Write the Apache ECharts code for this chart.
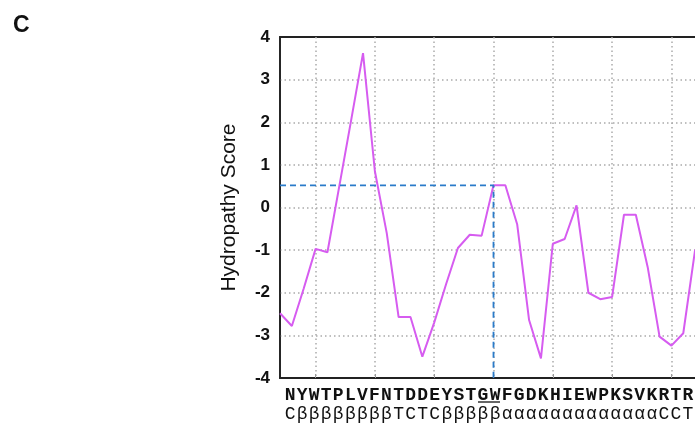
<!DOCTYPE html>
<html>
<head>
<meta charset="utf-8">
<script src="https://cdn.jsdelivr.net/npm/echarts@6/dist/echarts.min.js"></script>
<style>
  html, body { margin: 0; padding: 0; background: #fff; overflow: hidden; }
  #chart { width: 720px; height: 426px; }
</style>
</head>
<body>
<div id="chart"></div>
<script>
// window positions along the sequence (one per point, last one is the plot edge)
const positions = ['0','1','2','3','4','5','6','7','8','9','10','11','12','13','14','15','16','17','18',
  '19','20','21','22','23','24','25','26','27','28','29','30','31','32','33','34','35','36'];

// hydropathy score
const hydropathy = [-2.48, -2.78, -1.9, -0.97, -1.05, 0.5, 2.05, 3.62, 0.85, -0.6,
  -2.57, -2.57, -3.5, -2.7, -1.8, -0.95, -0.64, -0.66, 0.52, 0.52,
  -0.4, -2.64, -3.54, -0.85, -0.74, 0.05, -2.0, -2.15, -2.1, -0.17,
  -0.17, -1.4, -3.03, -3.24, -2.95, -0.99];

const residues = ['N','Y','W','T','P','L','V','F','N','T','D','D','E','Y','S','T','G','W',
  'F','G','D','K','H','I','E','W','P','K','S','V','K','R','T','R'];
const structure = ['C','β','β','β','β','β','β','β','β','T','C','T','C','β','β','β','β','β',
  'α','α','α','α','α','α','α','α','α','α','α','α','α','C','C','T'];

const gridLinesAt = [3, 8, 13, 18, 23, 28, 33];
const markIndex = 18;       // GW window
const markScore = 0.52;
const underlined = [16, 17]; // G, W
const yMin = -4, yMax = 4, yStep = 1;

const chart = echarts.init(document.getElementById('chart'));
const sans = 'Liberation Sans, Arial, sans-serif';
const mono = 'Liberation Mono, Courier New, monospace';
const atGrid = (i) => gridLinesAt.indexOf(i) >= 0;
const dotted = { color: '#aaa', type: [1.5, 3], width: 1.5 };

const letterAxis = (data, offset, weight, size) => ({
  type: 'category',
  gridIndex: 1,
  data: data,
  position: 'bottom',
  offset: offset,
  boundaryGap: true,
  axisLine: { show: false },
  axisTick: { show: false },
  splitLine: { show: false },
  axisLabel: {
    interval: 0, margin: 8, color: '#111',
    fontFamily: mono, fontWeight: weight, fontSize: size
  }
});

chart.setOption({
  animation: false,
  title: {
    text: 'C', left: 8, top: 9,
    textStyle: { fontFamily: sans, fontWeight: 'bold', fontSize: 23, color: '#111' }
  },
  grid: [
    { left: 280, top: 37, right: 13, bottom: 48, show: true, borderColor: '#222', borderWidth: 1.8 },
    { left: 284, top: 37, width: 410, bottom: 48, show: false }
  ],
  xAxis: [
    {
      type: 'category',
      gridIndex: 0,
      data: positions,
      boundaryGap: false,
      axisLine: { onZero: false, lineStyle: { color: '#222', width: 1.5 } },
      axisTick: { inside: true, length: 4, interval: (i) => atGrid(i), lineStyle: { color: '#999' } },
      axisLabel: { show: false },
      splitLine: { show: true, interval: (i) => atGrid(i), lineStyle: dotted }
    },
    letterAxis(residues, 0, 'bold', 18),
    letterAxis(structure, 19, 'normal', 18)
  ],
  yAxis: [
    {
      type: 'value',
      gridIndex: 0,
      min: yMin, max: yMax, interval: yStep,
      name: 'Hydropathy Score',
      nameLocation: 'middle',
      nameGap: 40,
      nameTextStyle: { fontFamily: sans, fontSize: 21, color: '#111' },
      axisLine: { show: true, lineStyle: { color: '#222', width: 1.5 } },
      axisTick: { show: false },
      axisLabel: { margin: 10, fontFamily: sans, fontWeight: 'bold', fontSize: 17, color: '#111' },
      splitLine: { show: true, showMinLine: false, showMaxLine: false, lineStyle: dotted }
    },
    { type: 'value', gridIndex: 1, show: false }
  ],
  series: [
    {
      type: 'line',
      xAxisIndex: 0, yAxisIndex: 0,
      data: hydropathy,
      symbol: 'none',
      lineStyle: { color: '#d65cf0', width: 2 }
    },
    {
      type: 'line',
      xAxisIndex: 0, yAxisIndex: 0,
      data: [[0, markScore], [markIndex, markScore], [markIndex, yMin]],
      symbol: 'none',
      lineStyle: { color: '#2a7bc9', width: 1.8, type: [6, 4] },
      z: 3
    }
  ]
});

// underline the GW residues in the sequence row
const x0 = chart.convertToPixel({ xAxisIndex: 1 }, underlined[0]);
const x1 = chart.convertToPixel({ xAxisIndex: 1 }, underlined[1]);
chart.setOption({
  graphic: [{
    type: 'line',
    shape: { x1: x0 - 5, y1: 402, x2: x1 + 5, y2: 402 },
    style: { stroke: '#111', lineWidth: 1.3 }
  }]
});
</script>
</body>
</html>
